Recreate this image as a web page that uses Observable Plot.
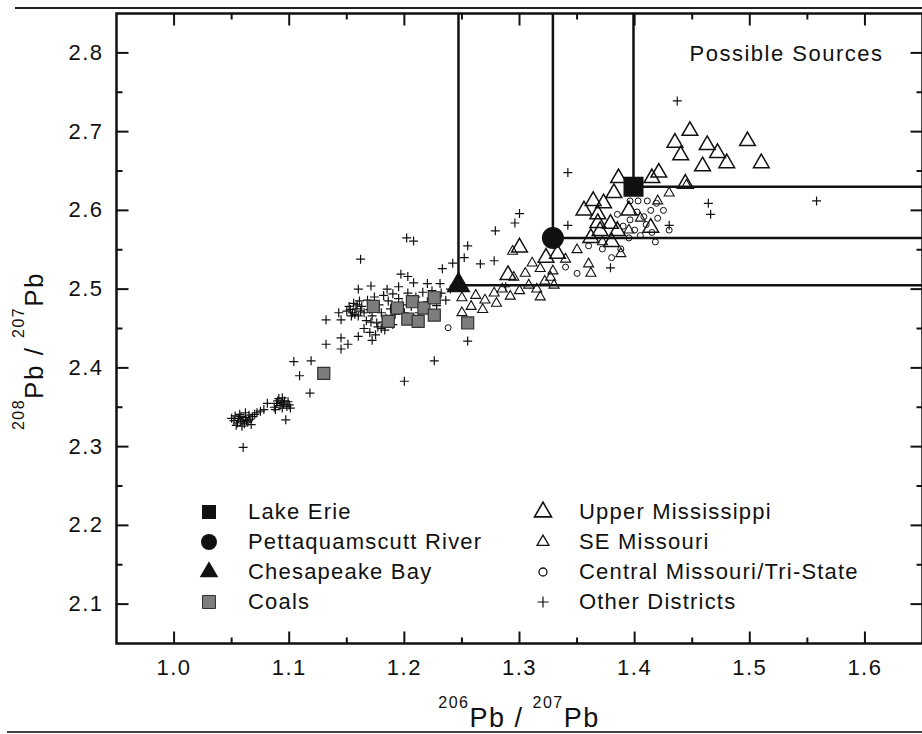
<!DOCTYPE html>
<html>
<head>
<meta charset="utf-8">
<script src="https://cdn.jsdelivr.net/npm/d3@7"></script>
<script src="https://cdn.jsdelivr.net/npm/@observablehq/plot@0.6"></script>
<style>
  body { margin: 0; background: #fff; }
  #wrap { position: relative; width: 922px; height: 734px; overflow: hidden;
          font-family: "Liberation Sans", Arial, sans-serif; color: #111; background: #fff; }
  #wrap svg { font-family: "Liberation Sans", Arial, sans-serif; font-size: 22px; letter-spacing: 1.5px; }
  .legend { position: absolute; top: 497px; display: flex; flex-direction: column; }
  .legend .row { height: 30px; display: flex; align-items: center; font-size: 22px; letter-spacing: 1.2px; white-space: nowrap; }
  .legend svg { width: 20px; height: 20px; overflow: visible; }
  .border { position: absolute; height: 2px; background: #222; }
</style>
</head>
<body>
<div id="wrap"></div>
<script>
// Axis extents and tick values (206Pb/207Pb on x, 208Pb/207Pb on y)
const xDomain = [0.95, 1.65];
const yDomain = [2.05, 2.85];
const xMajorTicks = [1.0, 1.1, 1.2, 1.3, 1.4, 1.5, 1.6];
const xMinorTicks = [1.05, 1.15, 1.25, 1.35, 1.45, 1.55];
const yMajorTicks = [2.1, 2.2, 2.3, 2.4, 2.5, 2.6, 2.7, 2.8];
const yMinorTicks = [2.15, 2.25, 2.35, 2.45, 2.55, 2.65, 2.75];

// Sediment records (possible receptors) with their drop lines
const sourceNames = ["Lake Erie", "Pettaquamscutt River", "Chesapeake Bay"];
const source206 = [1.399, 1.329, 1.247];
const source208 = [2.630, 2.565, 2.505];

// Coal samples [206/207, 208/207]
const coals = [
  [1.130, 2.393], [1.173, 2.478], [1.186, 2.459], [1.194, 2.476], [1.203, 2.462],
  [1.207, 2.484], [1.212, 2.459], [1.217, 2.476], [1.226, 2.489], [1.226, 2.467],
  [1.255, 2.457]
];

// Upper Mississippi Valley ores
const upperMississippi = [
  [1.448, 2.701], [1.435, 2.686], [1.440, 2.670], [1.463, 2.683], [1.472, 2.673],
  [1.480, 2.660], [1.459, 2.656], [1.498, 2.688], [1.510, 2.660], [1.444, 2.634],
  [1.421, 2.648], [1.415, 2.641], [1.386, 2.641], [1.364, 2.612], [1.373, 2.609],
  [1.382, 2.622], [1.368, 2.595], [1.368, 2.584], [1.370, 2.574], [1.379, 2.583],
  [1.385, 2.574], [1.414, 2.578], [1.395, 2.600], [1.356, 2.600], [1.362, 2.565],
  [1.380, 2.560], [1.300, 2.553], [1.323, 2.540], [1.333, 2.545], [1.290, 2.518]
];

// SE Missouri ores
const seMissouri = [
  [1.250, 2.489], [1.262, 2.492], [1.270, 2.486], [1.278, 2.495], [1.285, 2.500],
  [1.292, 2.491], [1.300, 2.498], [1.308, 2.505], [1.315, 2.500], [1.322, 2.510],
  [1.330, 2.505], [1.258, 2.478], [1.268, 2.474], [1.280, 2.482], [1.295, 2.515],
  [1.305, 2.520], [1.318, 2.526], [1.294, 2.548], [1.311, 2.533], [1.329, 2.523],
  [1.340, 2.538], [1.360, 2.532], [1.350, 2.550], [1.388, 2.545], [1.372, 2.560],
  [1.395, 2.575], [1.405, 2.590], [1.420, 2.612], [1.430, 2.622], [1.445, 2.632],
  [1.362, 2.520], [1.327, 2.515], [1.250, 2.470], [1.318, 2.490]
];

// Central Missouri / Tri-State ores
const centralMissouri = [
  [1.396, 2.612], [1.403, 2.612], [1.411, 2.612], [1.419, 2.609], [1.402, 2.598],
  [1.408, 2.592], [1.414, 2.600], [1.396, 2.588], [1.388, 2.551], [1.372, 2.551],
  [1.390, 2.580], [1.400, 2.575], [1.410, 2.582], [1.420, 2.590], [1.385, 2.595],
  [1.395, 2.565], [1.405, 2.568], [1.415, 2.572], [1.425, 2.600], [1.380, 2.540],
  [1.340, 2.528], [1.350, 2.520], [1.238, 2.451], [1.360, 2.555], [1.418, 2.560],
  [1.430, 2.575]
];

// Other mining districts
const otherDistricts = [
  [1.052, 2.333], [1.055, 2.330], [1.056, 2.336], [1.058, 2.332], [1.058, 2.338],
  [1.060, 2.334], [1.061, 2.329], [1.062, 2.337], [1.063, 2.333], [1.065, 2.340],
  [1.066, 2.335], [1.054, 2.327], [1.059, 2.326], [1.064, 2.331], [1.068, 2.338],
  [1.057, 2.341], [1.062, 2.343], [1.067, 2.328], [1.050, 2.336], [1.053, 2.339],
  [1.070, 2.341], [1.072, 2.343], [1.075, 2.345], [1.078, 2.347], [1.081, 2.355],
  [1.087, 2.350], [1.089, 2.355], [1.090, 2.358], [1.092, 2.352], [1.093, 2.356],
  [1.094, 2.349], [1.095, 2.354], [1.096, 2.358], [1.098, 2.351], [1.100, 2.353],
  [1.091, 2.361], [1.097, 2.334], [1.060, 2.299], [1.109, 2.390], [1.118, 2.368],
  [1.088, 2.347], [1.099, 2.357], [1.094, 2.362], [1.101, 2.349],
  [1.200, 2.383], [1.104, 2.408], [1.119, 2.409],
  [1.132, 2.430], [1.145, 2.438], [1.151, 2.430], [1.145, 2.424], [1.132, 2.461],
  [1.145, 2.461], [1.143, 2.470], [1.171, 2.504], [1.162, 2.538], [1.202, 2.565],
  [1.208, 2.561], [1.197, 2.519], [1.203, 2.516], [1.208, 2.508], [1.220, 2.507],
  [1.231, 2.507], [1.226, 2.409], [1.255, 2.434], [1.242, 2.533], [1.233, 2.526],
  [1.255, 2.555], [1.266, 2.532], [1.278, 2.536], [1.279, 2.574], [1.300, 2.596],
  [1.296, 2.584], [1.342, 2.648], [1.342, 2.581], [1.437, 2.739], [1.464, 2.609],
  [1.466, 2.595], [1.558, 2.612], [1.430, 2.581], [1.379, 2.527], [1.252, 2.540],
  [1.288, 2.503],
  [1.150, 2.472], [1.152, 2.478], [1.155, 2.470], [1.156, 2.482], [1.158, 2.475],
  [1.160, 2.466], [1.161, 2.485], [1.163, 2.478], [1.165, 2.470], [1.167, 2.460],
  [1.168, 2.486], [1.170, 2.474], [1.172, 2.466], [1.174, 2.490], [1.176, 2.457],
  [1.178, 2.480], [1.180, 2.470], [1.182, 2.492], [1.184, 2.463], [1.186, 2.485],
  [1.188, 2.475], [1.190, 2.494], [1.192, 2.468], [1.195, 2.488], [1.198, 2.480],
  [1.200, 2.470], [1.203, 2.495], [1.206, 2.478], [1.210, 2.490], [1.213, 2.470],
  [1.216, 2.496], [1.220, 2.484], [1.224, 2.498], [1.228, 2.479], [1.232, 2.495],
  [1.236, 2.486], [1.240, 2.500], [1.165, 2.450], [1.170, 2.445], [1.175, 2.442],
  [1.180, 2.450], [1.160, 2.440], [1.172, 2.435], [1.190, 2.455], [1.160, 2.500],
  [1.185, 2.500], [1.195, 2.503],
  [1.153, 2.474], [1.157, 2.468], [1.159, 2.480], [1.154, 2.466], [1.162, 2.472],
  [1.177, 2.452], [1.181, 2.458], [1.183, 2.448], [1.188, 2.462], [1.171, 2.458]
];

const ink = "#111";
const sources = sourceNames.map((name, i) => ({name, x: source206[i], y: source208[i]}));
const px = d => d[0], py = d => d[1];

// Inward-pointing tick drawn as a custom dot symbol
const tickMark = (dx, dy) => ({draw(context) { context.moveTo(0, 0); context.lineTo(dx, dy); }});
const ticks = (values, axis, at, dx, dy, w) => Plot.dot(values, {
  x: axis === "x" ? d => d : () => at,
  y: axis === "y" ? d => d : () => at,
  symbol: tickMark(dx, dy), fill: "none", stroke: ink, strokeWidth: w
});

const chart = Plot.plot({
  width: 922,
  height: 734,
  marginLeft: 116,
  marginRight: 0,
  marginTop: 13,
  marginBottom: 91,
  x: {domain: xDomain, range: [116, 922]},
  y: {domain: yDomain},
  marks: [
    Plot.dot(otherDistricts, {x: px, y: py, symbol: "plus", r: 3, stroke: ink, strokeWidth: 1.2}),
    Plot.dot(centralMissouri, {x: px, y: py, symbol: "circle", r: 3, fill: "none", stroke: ink, strokeWidth: 1}),
    Plot.dot(seMissouri, {x: px, y: py, symbol: "triangle2", r: 4.8, fill: "none", stroke: ink, strokeWidth: 1.1}),
    Plot.dot(upperMississippi, {x: px, y: py, symbol: "triangle2", r: 7.5, fill: "none", stroke: ink, strokeWidth: 1.5}),
    Plot.dot(coals, {x: px, y: py, symbol: "square", r: 6.8, fill: "#7d7d7d", stroke: "#333", strokeWidth: 1.2}),
    Plot.ruleX(sources, {x: "x", y1: "y", y2: () => yDomain[1], stroke: ink, strokeWidth: 2.5}),
    Plot.ruleY(sources, {y: "y", x1: "x", x2: () => xDomain[1], stroke: ink, strokeWidth: 2.5}),
    Plot.dot(sources.filter(d => d.name === "Lake Erie"), {x: "x", y: "y", symbol: "square", r: 11.3, fill: ink}),
    Plot.dot(sources.filter(d => d.name === "Pettaquamscutt River"), {x: "x", y: "y", symbol: "circle", r: 11, fill: ink}),
    Plot.dot(sources.filter(d => d.name === "Chesapeake Bay"), {x: "x", y: "y", symbol: "triangle", r: 9, fill: ink}),
    Plot.text(["Possible Sources"], {text: d => d, frameAnchor: "top-right", dx: -39, dy: 40,
      textAnchor: "end", lineAnchor: "middle", fill: ink}),
    // frame and inward ticks on all four sides
    Plot.frame({stroke: ink, strokeWidth: 2.5}),
    ticks(xMajorTicks, "x", yDomain[0], 0, -12, 2),
    ticks(xMinorTicks, "x", yDomain[0], 0, -6, 2),
    ticks(xMajorTicks, "x", yDomain[1], 0, 12, 2),
    ticks(xMinorTicks, "x", yDomain[1], 0, 6, 2),
    ticks(yMajorTicks, "y", xDomain[0], 12, 0, 2),
    ticks(yMinorTicks, "y", xDomain[0], 6, 0, 2),
    ticks(yMajorTicks, "y", xDomain[1], -12, 0, 2),
    ticks(yMinorTicks, "y", xDomain[1], -6, 0, 2),
    Plot.axisX(xMajorTicks, {tickSize: 0, tickPadding: 16, tickFormat: d => d.toFixed(1), label: null, fill: ink}),
    Plot.axisY(yMajorTicks, {tickSize: 0, tickPadding: 13, tickFormat: d => d.toFixed(1), label: null, fill: ink})
  ]
});

const wrap = document.getElementById("wrap");
wrap.appendChild(chart);

// Axis titles with superscript mass numbers
const svg = d3.select(chart);
function isotopeTitle(sel, big, small, rise, a, b) {
  sel.append("tspan").attr("font-size", small).attr("dy", -rise).text(a);
  sel.append("tspan").attr("font-size", big).attr("dy", rise).text("Pb / ");
  sel.append("tspan").attr("font-size", small).attr("dy", -rise).text(b);
  sel.append("tspan").attr("font-size", big).attr("dy", rise).text("Pb");
}
const xt = svg.append("text")
  .attr("x", (116 + 922) / 2).attr("y", 727)
  .attr("text-anchor", "middle").attr("fill", ink).style("letter-spacing", "1.5px");
isotopeTitle(xt, 27, 16, 19, "206", "207");

const yt = svg.append("text")
  .attr("transform", "translate(43,351) rotate(-90)")
  .attr("text-anchor", "middle").attr("fill", ink).style("letter-spacing", "1.5px");
isotopeTitle(yt, 26, 16, 19, "208", "207");

// Legend
const legendLeft = [
  {label: "Lake Erie", type: d3.symbolSquare, size: 196, fill: ink, stroke: "none"},
  {label: "Pettaquamscutt River", type: d3.symbolCircle, size: 201, fill: ink, stroke: "none"},
  {label: "Chesapeake Bay", type: d3.symbolTriangle, size: 150, fill: ink, stroke: "none"},
  {label: "Coals", type: d3.symbolSquare, size: 169, fill: "#7d7d7d", stroke: "#333"}
];
const legendRight = [
  {label: "Upper Mississippi", type: d3.symbolTriangle2, size: 207, fill: "none", stroke: ink, sw: 1.6},
  {label: "SE Missouri", type: d3.symbolTriangle2, size: 103, fill: "none", stroke: ink, sw: 1.3},
  {label: "Central Missouri/Tri-State", type: d3.symbolCircle, size: 50, fill: "none", stroke: ink, sw: 1.3},
  {label: "Other Districts", type: d3.symbolPlus, size: 42, fill: "none", stroke: ink, sw: 1.2}
];
function legendColumn(items, left, gap) {
  const col = d3.select(wrap).append("div").attr("class", "legend").style("left", left + "px");
  items.forEach(it => {
    const row = col.append("div").attr("class", "row");
    const s = row.append("svg").attr("viewBox", "-10 -10 20 20");
    s.append("path").attr("d", d3.symbol(it.type, it.size)())
      .attr("fill", it.fill).attr("stroke", it.stroke).attr("stroke-width", it.sw || 1);
    row.append("span").style("margin-left", gap + "px").text(it.label);
  });
}
legendColumn(legendLeft, 199, 29);
legendColumn(legendRight, 533, 26);

// Page rules above and below the figure
d3.select(wrap).append("div").attr("class", "border").style("left", "15px").style("right", "0").style("top", "7px");
d3.select(wrap).append("div").attr("class", "border").style("left", "7px").style("right", "0").style("top", "731px").style("background", "#444");
</script>
</body>
</html>
